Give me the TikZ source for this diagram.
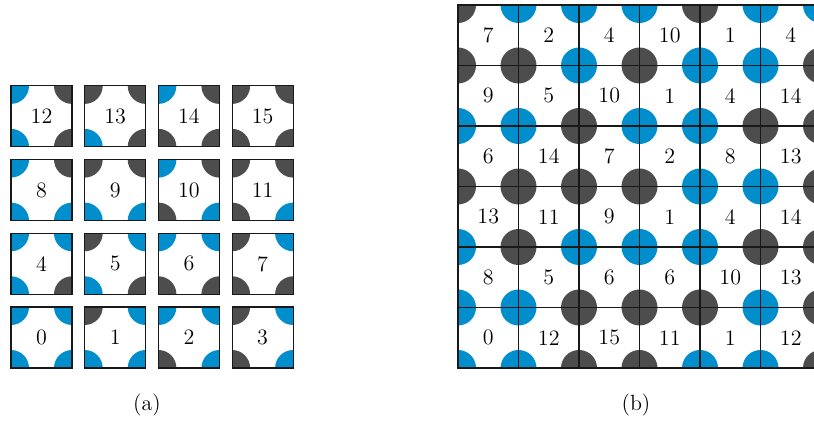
\documentclass[tikz,border=0pt]{standalone}
\usepackage{tikz}

\definecolor{corner0}{RGB}{0,142,204}
\definecolor{corner1}{RGB}{77,77,77}

% tile: #1 x, #2 y of center, #3 index, #4 name, #5 size
\newcommand{\wangtile}[5]{%
  \node[tile, minimum size=#5] (#4) at ({#1},{#2}) {#3};
  \pgfmathtruncatemacro\ctl{mod(#3,2)}%
  \pgfmathtruncatemacro\cbl{mod(floor(#3/2),2)}%
  \pgfmathtruncatemacro\cbr{mod(floor(#3/4),2)}%
  \pgfmathtruncatemacro\ctr{mod(floor(#3/8),2)}%
  \begin{scope}
    \clip (#4.south west) rectangle (#4.north east);
    \fill[corner\ctl] (#4.north west) circle[radius=9pt];
    \fill[corner\cbl] (#4.south west) circle[radius=9pt];
    \fill[corner\cbr] (#4.south east) circle[radius=9pt];
    \fill[corner\ctr] (#4.north east) circle[radius=9pt];
  \end{scope}
}

\begin{document}
\begin{tikzpicture}[
  x=0.5pt, y=0.5pt,
  every node/.style={font=\fontsize{11}{13}\selectfont},
  tile/.style={
    rectangle,
    inner sep=0pt,
    outer sep=0pt
  },
  tileedge/.style={
    draw=black!90,
    line width=0.55pt
  }
]
  \useasboundingbox (0,0) rectangle (814,422);

  % (a) the sixteen tiles
  \foreach \row in {0,...,3} {
    \foreach \col in {0,...,3} {
      \pgfmathtruncatemacro\idx{4*\row+\col}
      \wangtile{41.5+73.7*\col}{84.5+73.7*\row}{\idx}{a\idx}{30.5pt}
      \draw[tileedge] (a\idx.south west) rectangle (a\idx.north east);
    }
  }

  % (b) a tiling
  \foreach \nums [count=\i from 0] in {
    {7,2,4,10,1,4},
    {9,5,10,1,4,14},
    {6,14,7,2,8,13},
    {13,11,9,1,4,14},
    {8,5,6,6,10,13},
    {0,12,15,11,1,12}} {
    \foreach \n [count=\j from 0] in \nums {
      \wangtile{488.25+60.5*\j}{84.25+60.5*(5-\i)}{\n}{b\i\j}{30.25pt}
    }
  }
  % grid lines over the discs
  \foreach \i in {0,...,5} {
    \foreach \j in {0,...,5} {
      \draw[tileedge] (b\i\j.south west) rectangle (b\i\j.north east);
    }
  }

  \node (capa) at (147,17) {(a)};
  \node (capb) at (636,17) {(b)};
\end{tikzpicture}
\end{document}
